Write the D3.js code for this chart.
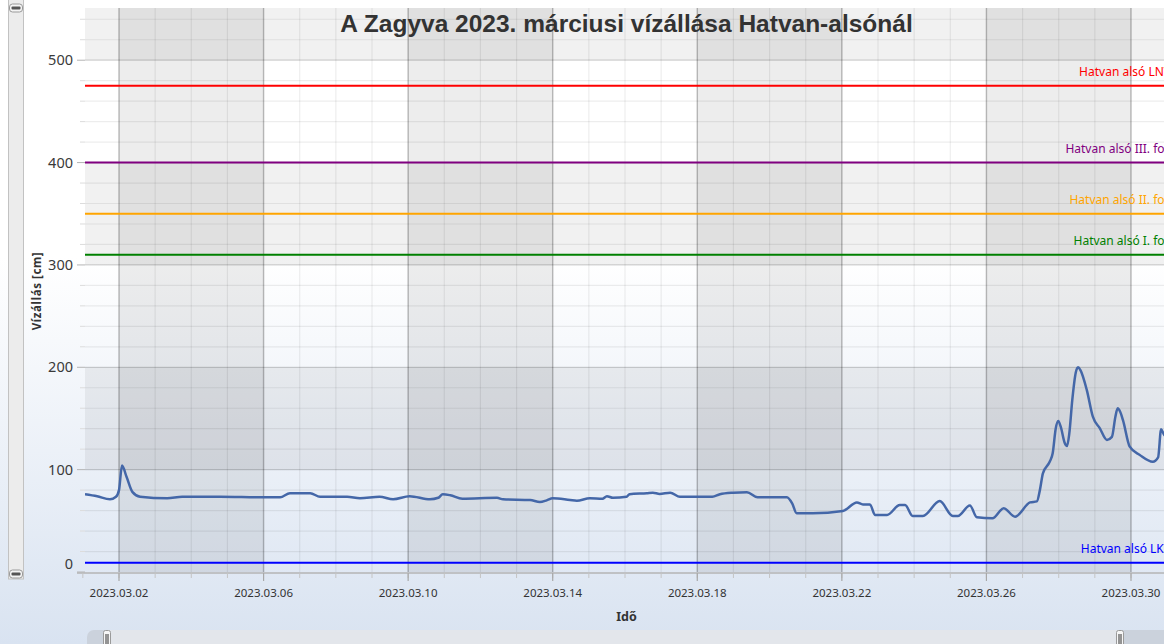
<!DOCTYPE html>
<html>
<head>
<meta charset="utf-8">
<script src="https://cdnjs.cloudflare.com/ajax/libs/d3/7.8.5/d3.min.js"></script>
<style>
  html, body { margin: 0; padding: 0; background: #fff; overflow: hidden; }
  svg { display: block; }
</style>
</head>
<body>
<div id="chart"></div>
<script>
// water level readings (time, cm)
var levelTimes = [
    "2023-03-01 01:24", "2023-03-01 09:30", "2023-03-01 18:00", "2023-03-01 22:00", "2023-03-02 00:00",
    "2023-03-02 02:00", "2023-03-02 05:00", "2023-03-02 09:00", "2023-03-02 14:00", "2023-03-03 08:00",
    "2023-03-03 18:00", "2023-03-04 19:00", "2023-03-06 00:00", "2023-03-06 11:00", "2023-03-06 17:30",
    "2023-03-07 07:00", "2023-03-07 13:30", "2023-03-08 07:30", "2023-03-08 16:00", "2023-03-09 05:00",
    "2023-03-09 14:00", "2023-03-10 01:00", "2023-03-10 14:30", "2023-03-10 20:00", "2023-03-10 23:00",
    "2023-03-11 04:00", "2023-03-11 12:00", "2023-03-12 11:00", "2023-03-12 15:00", "2023-03-13 09:00",
    "2023-03-13 15:30", "2023-03-13 20:00", "2023-03-14 00:00", "2023-03-14 11:30", "2023-03-14 16:00",
    "2023-03-15 00:40", "2023-03-15 09:00", "2023-03-15 12:00", "2023-03-15 16:00", "2023-03-16 01:00",
    "2023-03-16 03:00", "2023-03-16 14:30", "2023-03-16 18:30", "2023-03-16 23:00", "2023-03-17 06:00",
    "2023-03-17 12:30", "2023-03-18 03:40", "2023-03-18 10:00", "2023-03-18 15:00", "2023-03-18 23:40",
    "2023-03-19 09:00", "2023-03-19 16:00", "2023-03-20 11:30", "2023-03-20 15:00", "2023-03-20 18:00",
    "2023-03-21 04:40", "2023-03-22 00:40", "2023-03-22 10:00", "2023-03-22 14:00", "2023-03-22 18:40",
    "2023-03-22 22:00", "2023-03-23 06:00", "2023-03-23 14:30", "2023-03-23 18:00", "2023-03-23 23:00",
    "2023-03-24 05:50", "2023-03-24 17:00", "2023-03-25 01:40", "2023-03-25 05:00", "2023-03-25 13:00",
    "2023-03-25 17:40", "2023-03-26 04:00", "2023-03-26 11:30", "2023-03-26 19:00", "2023-03-27 05:00",
    "2023-03-27 09:30", "2023-03-27 11:30", "2023-03-27 13:30", "2023-03-27 18:00", "2023-03-27 20:00",
    "2023-03-27 22:00", "2023-03-27 23:40", "2023-03-28 01:20", "2023-03-28 04:00", "2023-03-28 05:30",
    "2023-03-28 07:00", "2023-03-28 09:00", "2023-03-28 11:20", "2023-03-28 12:50", "2023-03-28 14:30",
    "2023-03-28 18:40", "2023-03-28 22:40", "2023-03-29 03:20", "2023-03-29 08:00", "2023-03-29 11:20",
    "2023-03-29 13:40", "2023-03-29 15:10", "2023-03-29 16:40", "2023-03-29 18:40", "2023-03-29 23:10",
    "2023-03-30 05:50", "2023-03-30 14:30", "2023-03-30 18:00", "2023-03-30 20:00", "2023-03-30 22:00",
    "2023-03-31 02:00"
];
var levelValues = [
    76, 74, 71, 73.5, 80,
    104, 93, 78, 73.5, 72,
    73.5, 73.5, 73, 73, 77,
    77, 73.5, 73.5, 72, 73.5,
    71, 74, 71, 72.5, 76,
    75, 71.6, 72.5, 71, 70.3,
    68.4, 70, 72, 70.3, 69.6,
    72, 71.6, 74, 72.5, 73.5,
    76, 77, 77.5, 76.3, 77.5,
    73.5, 73.5, 73.5, 76, 77.5,
    78, 73, 73, 67, 57.3,
    57.3, 59.6, 68, 66, 66,
    55.7, 55.7, 65.4, 65.4, 54.7,
    54.7, 69.3, 54.7, 54.7, 65,
    53.4, 52.4, 62.2, 54, 68,
    69, 80, 96.4, 107.7, 116,
    140, 147.5, 142, 126, 123,
    135, 168, 195, 200, 197,
    177.7, 151.7, 140.3, 129, 132,
    152, 160, 157, 148.4, 122.4,
    114.3, 107.7, 112, 139.4, 134,
    130
];

// threshold lines
var limitNames = ["Hatvan alsó LNV", "Hatvan alsó III. fok", "Hatvan alsó II. fok", "Hatvan alsó I. fok", "Hatvan alsó LKV"];
var limitValues = [475, 400, 350, 310, 9];
var limitColors = ["#ff0000", "#800080", "#ffa500", "#008000", "#0000ff"];

// axis ticks
var yTicks = [0, 100, 200, 300, 400, 500];
var xTickLabels = ["2023.03.02", "2023.03.06", "2023.03.10", "2023.03.14", "2023.03.18", "2023.03.22", "2023.03.26", "2023.03.30"];

var W = 1164, H = 644;
var plot = { left: 85, right: 1168, top: 8, bottom: 572 };

var parseTime = d3.timeParse("%Y-%m-%d %H:%M");
var parseTick = d3.timeParse("%Y.%m.%d");

var series = levelTimes.map(function (t, i) { return { t: parseTime(t), v: levelValues[i] }; });
var tickDates = xTickLabels.map(parseTick);

var x = d3.scaleTime()
    .domain([tickDates[0], tickDates[tickDates.length - 1]])
    .range([119, 1131]);

var y = d3.scaleLinear()
    .domain([0, 551])
    .range([plot.bottom, plot.top]);

var xStart = x.invert(plot.left), xEnd = x.invert(plot.right);

var svg = d3.select("#chart").append("svg")
    .attr("width", W)
    .attr("height", H);

var defs = svg.append("defs");
var grad = defs.append("linearGradient")
    .attr("id", "bg")
    .attr("x1", 0).attr("y1", 0).attr("x2", 0).attr("y2", 1);
grad.append("stop").attr("offset", "0%").attr("stop-color", "#ffffff");
grad.append("stop").attr("offset", "40%").attr("stop-color", "#ffffff");
grad.append("stop").attr("offset", "100%").attr("stop-color", "#d9e3f1");

defs.append("clipPath").attr("id", "plotClip")
    .append("rect")
    .attr("x", plot.left).attr("y", plot.top)
    .attr("width", plot.right - plot.left).attr("height", plot.bottom - plot.top);

svg.append("rect")
    .attr("width", W).attr("height", H)
    .attr("fill", "url(#bg)");

var g = svg.append("g").attr("clip-path", "url(#plotClip)");

// horizontal strips
var hStrips = [[100, 200], [300, 400], [500, 551]];
g.selectAll(".hstrip").data(hStrips).enter().append("rect")
    .attr("x", plot.left)
    .attr("width", plot.right - plot.left)
    .attr("y", function (d) { return y(d[1]); })
    .attr("height", function (d) { return y(d[0]) - y(d[1]); })
    .attr("fill", "rgba(0,0,0,0.055)");

// vertical strips
var vStrips = [];
for (var i = 0; i < tickDates.length - 1; i += 2) vStrips.push([tickDates[i], tickDates[i + 1]]);
g.selectAll(".vstrip").data(vStrips).enter().append("rect")
    .attr("x", function (d) { return x(d[0]); })
    .attr("width", function (d) { return x(d[1]) - x(d[0]); })
    .attr("y", plot.top)
    .attr("height", plot.bottom - plot.top)
    .attr("fill", "rgba(0,0,0,0.07)");

// minor grid
var dayTicks = d3.timeDay.range(d3.timeDay.floor(xStart), xEnd);
g.selectAll(".vminor").data(dayTicks).enter().append("line")
    .attr("x1", function (d) { return x(d); }).attr("x2", function (d) { return x(d); })
    .attr("y1", plot.top).attr("y2", plot.bottom)
    .attr("stroke", "rgba(0,0,0,0.07)").attr("stroke-width", 1.2);

var yMinor = d3.range(20, 551, 20).filter(function (d) { return d % 100 !== 0; });
g.selectAll(".hminor").data(yMinor).enter().append("line")
    .attr("x1", plot.left).attr("x2", plot.right)
    .attr("y1", function (d) { return y(d); }).attr("y2", function (d) { return y(d); })
    .attr("stroke", "rgba(0,0,0,0.07)").attr("stroke-width", 1.2);

// major grid
g.selectAll(".vmajor").data(tickDates).enter().append("line")
    .attr("x1", function (d) { return x(d); }).attr("x2", function (d) { return x(d); })
    .attr("y1", plot.top).attr("y2", plot.bottom)
    .attr("stroke", "rgba(0,0,0,0.2)").attr("stroke-width", 1.5);

g.selectAll(".hmajor").data(yTicks.slice(1)).enter().append("line")
    .attr("x1", plot.left).attr("x2", plot.right)
    .attr("y1", function (d) { return y(d); }).attr("y2", function (d) { return y(d); })
    .attr("stroke", "rgba(0,0,0,0.17)").attr("stroke-width", 1.2);

// title (drawn inside the plot area)
svg.append("text")
    .attr("x", (plot.left + plot.right) / 2)
    .attr("y", 32)
    .attr("text-anchor", "middle")
    .attr("font-family", "Liberation Sans, Arial, sans-serif")
    .attr("font-weight", "bold")
    .attr("font-size", "24.5px")
    .attr("fill", "#333")
    .text("A Zagyva 2023. márciusi vízállása Hatvan-alsónál");

// threshold lines + labels
var limits = limitNames.map(function (n, i) { return { name: n, v: limitValues[i], c: limitColors[i] }; });
g.selectAll(".limit").data(limits).enter().append("line")
    .attr("x1", plot.left).attr("x2", plot.right)
    .attr("y1", function (d) { return y(d.v); }).attr("y2", function (d) { return y(d.v); })
    .attr("stroke", function (d) { return d.c; })
    .attr("stroke-width", 2);

svg.selectAll(".limitLabel").data(limits).enter().append("text")
    .attr("x", plot.right + 3)
    .attr("y", function (d) { return y(d.v) - 10; })
    .attr("text-anchor", "end")
    .attr("font-family", "Noto Sans, sans-serif")
    .attr("font-size", "12px")
    .attr("fill", function (d) { return d.c; })
    .text(function (d) { return d.name; });

// water level line
var line = d3.line()
    .x(function (d) { return x(d.t); })
    .y(function (d) { return y(d.v); })
    .curve(d3.curveMonotoneX);

g.append("path")
    .datum(series)
    .attr("d", line)
    .attr("fill", "none")
    .attr("stroke", "#4467a8")
    .attr("stroke-width", 2.5)
    .attr("stroke-linejoin", "round");

// y axis
var yAx = svg.append("g");
yAx.selectAll(".ytick").data(yTicks).enter().append("line")
    .attr("x1", 77).attr("x2", plot.left)
    .attr("y1", function (d) { return y(d); }).attr("y2", function (d) { return y(d); })
    .attr("stroke", "#b4b4b4");
yAx.selectAll(".ymtick").data(yMinor).enter().append("line")
    .attr("x1", 80).attr("x2", plot.left)
    .attr("y1", function (d) { return y(d); }).attr("y2", function (d) { return y(d); })
    .attr("stroke", "#dcdcdc");
yAx.selectAll(".ylabel").data(yTicks).enter().append("text")
    .attr("x", 73)
    .attr("y", function (d) { return d === 0 ? y(d) - 8 : y(d); })
    .attr("dy", "0.35em")
    .attr("text-anchor", "end")
    .attr("font-family", "Noto Sans, sans-serif")
    .attr("font-size", "14.5px")
    .attr("fill", "#3a3a3a")
    .text(function (d) { return d; });

svg.append("text")
    .attr("transform", "translate(41," + 291 + ") rotate(-90)")
    .attr("text-anchor", "middle")
    .attr("font-family", "Noto Sans, sans-serif")
    .attr("font-weight", "bold")
    .attr("font-size", "11.5px")
    .attr("letter-spacing", "0.6px")
    .attr("fill", "#333")
    .text("Vízállás [cm]");

// x axis
var xAx = svg.append("g");
xAx.append("line")
    .attr("x1", 77).attr("x2", W)
    .attr("y1", plot.bottom + 1).attr("y2", plot.bottom + 1)
    .attr("stroke", "#b4b4b4").attr("stroke-width", 1.5);
xAx.selectAll(".xmtick").data(dayTicks).enter().append("line")
    .attr("x1", function (d) { return x(d); }).attr("x2", function (d) { return x(d); })
    .attr("y1", plot.bottom + 1).attr("y2", plot.bottom + 6)
    .attr("stroke", "#c4c4c4");
xAx.selectAll(".xtick").data(tickDates).enter().append("line")
    .attr("x1", function (d) { return x(d); }).attr("x2", function (d) { return x(d); })
    .attr("y1", plot.bottom + 1).attr("y2", plot.bottom + 9)
    .attr("stroke", "#a8a8a8").attr("stroke-width", 1.2);
xAx.selectAll(".xlabel").data(tickDates).enter().append("text")
    .attr("x", function (d) { return x(d); })
    .attr("y", 597)
    .attr("text-anchor", "middle")
    .attr("font-family", "Noto Sans, sans-serif")
    .attr("font-size", "11.5px")
    .attr("fill", "#333")
    .text(function (d, i) { return xTickLabels[i]; });

svg.append("text")
    .attr("x", (plot.left + plot.right) / 2)
    .attr("y", 621)
    .attr("text-anchor", "middle")
    .attr("font-family", "Noto Sans, sans-serif")
    .attr("font-weight", "bold")
    .attr("font-size", "12.5px")
    .attr("fill", "#333")
    .text("Idő");

// vertical scrollbar (left)
var vs = svg.append("g");
vs.append("rect").attr("x", 8.5).attr("y", -2).attr("width", 15).attr("height", 581)
    .attr("fill", "#ececec").attr("stroke", "#c2c2c2");
[4, 570].forEach(function (ty) {
    vs.append("rect").attr("x", 9.5).attr("y", ty).attr("width", 13).attr("height", 8).attr("rx", 3)
        .attr("fill", "#f4f4f4").attr("stroke", "#9a9a9a");
    vs.append("rect").attr("x", 11.5).attr("y", ty + 2.5).attr("width", 9).attr("height", 3).attr("rx", 1)
        .attr("fill", "#555");
});

// horizontal scrollbar (bottom)
var hs = svg.append("g");
hs.append("rect").attr("x", 87).attr("y", 630).attr("width", 1100).attr("height", 20).attr("rx", 7)
    .attr("fill", "#cbd2dc");
hs.append("rect").attr("x", 108).attr("y", 630).attr("width", 1012).attr("height", 20)
    .attr("fill", "#e3e6eb");
[107, 1120].forEach(function (gx) {
    hs.append("rect").attr("x", gx - 3.5).attr("y", 630.5).attr("width", 7).attr("height", 16).attr("rx", 2)
        .attr("fill", "#f6f6f6").attr("stroke", "#9a9a9a");
    hs.append("line").attr("x1", gx - 1).attr("x2", gx - 1).attr("y1", 634).attr("y2", 644).attr("stroke", "#333");
    hs.append("line").attr("x1", gx + 1).attr("x2", gx + 1).attr("y1", 634).attr("y2", 644).attr("stroke", "#333");
});
</script>
</body>
</html>
